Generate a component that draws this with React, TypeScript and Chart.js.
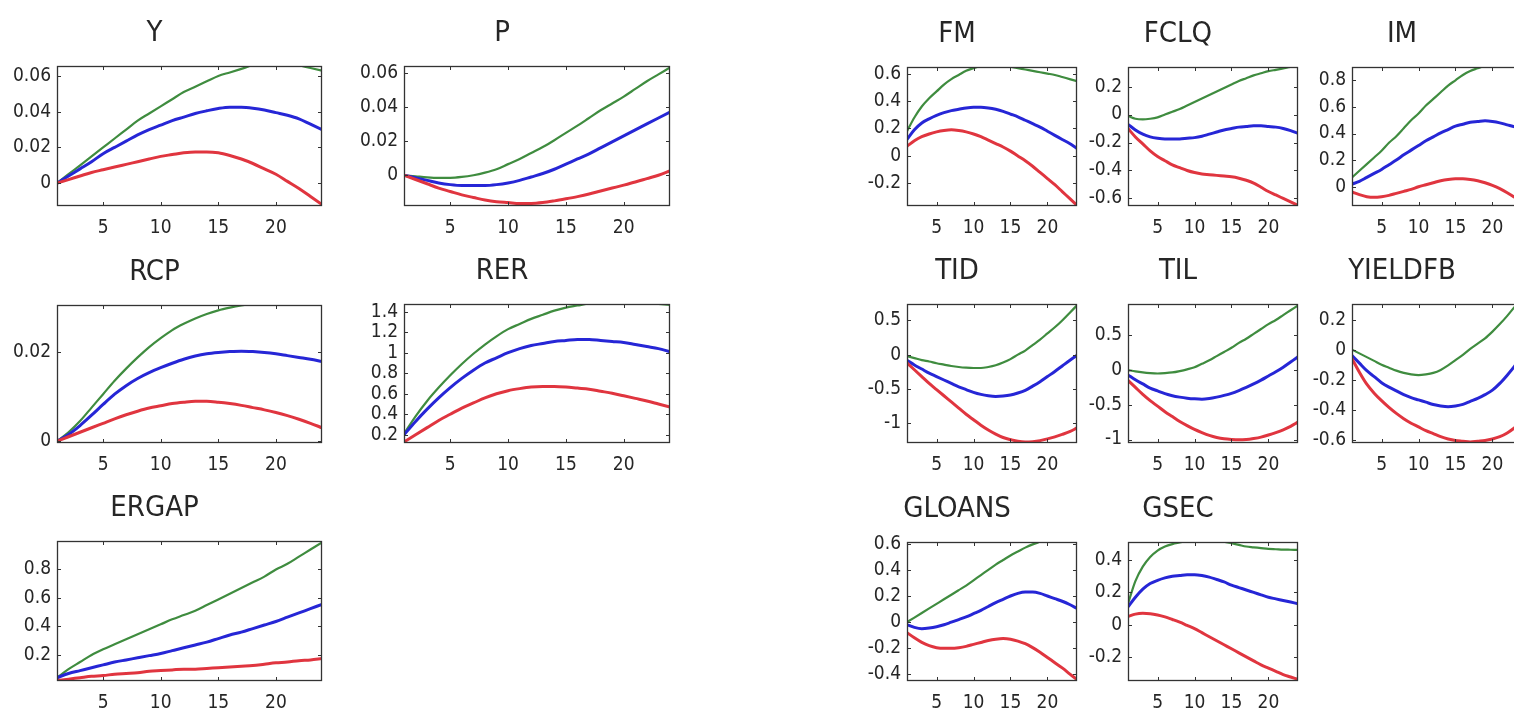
import React, { useEffect, useRef } from "react";
import { Chart, registerables } from "chart.js";

Chart.register(...registerables);

// ---------- data ----------
const HORIZON = [1, 2, 3, 4, 5, 6, 7, 8, 9, 10, 11, 12, 13, 14, 15, 16, 17, 18, 19, 20, 21, 22, 23, 24];
const X_TICKS = [5, 10, 15, 20];

// Y
const Y_GREEN = [0, 0.005, 0.01, 0.015, 0.02, 0.025, 0.03, 0.035, 0.039, 0.043, 0.047, 0.051, 0.054, 0.057, 0.06, 0.062, 0.064, 0.066, 0.067, 0.0675, 0.0675, 0.066, 0.0645, 0.063];
const Y_BLUE = [0, 0.004, 0.008, 0.012, 0.0165, 0.02, 0.0235, 0.027, 0.03, 0.0325, 0.035, 0.037, 0.039, 0.0405, 0.0418, 0.0425, 0.0425, 0.042, 0.041, 0.0395, 0.038, 0.036, 0.033, 0.03];
const Y_RED = [0, 0.002, 0.004, 0.006, 0.0075, 0.009, 0.0105, 0.012, 0.0135, 0.015, 0.016, 0.017, 0.0175, 0.0175, 0.017, 0.0155, 0.0135, 0.011, 0.008, 0.005, 0.001, -0.003, -0.0075, -0.012];
const Y_TICKS = [0, 0.02, 0.04, 0.06];

// P
const P_GREEN = [0, -0.0006, -0.0012, -0.0015, -0.0015, -0.001, 0, 0.0015, 0.0035, 0.0065, 0.0095, 0.013, 0.0165, 0.0205, 0.0248, 0.029, 0.0335, 0.038, 0.042, 0.046, 0.0505, 0.055, 0.059, 0.063];
const P_BLUE = [0, -0.0015, -0.003, -0.0045, -0.0055, -0.006, -0.006, -0.006, -0.0055, -0.0045, -0.003, -0.001, 0.001, 0.0035, 0.0065, 0.0095, 0.0125, 0.016, 0.0195, 0.023, 0.0265, 0.03, 0.0335, 0.037];
const P_RED = [0, -0.0025, -0.005, -0.0075, -0.0095, -0.0115, -0.013, -0.0145, -0.0155, -0.016, -0.0165, -0.0165, -0.016, -0.015, -0.0138, -0.0125, -0.011, -0.0092, -0.0075, -0.0058, -0.004, -0.002, 0, 0.0025];
const P_TICKS = [0, 0.02, 0.04, 0.06];

// RCP
const RCP_GREEN = [0, 0.002, 0.0045, 0.0075, 0.0105, 0.0135, 0.0162, 0.0187, 0.021, 0.023, 0.0248, 0.0262, 0.0274, 0.0284, 0.0292, 0.0298, 0.0303, 0.0307, 0.031, 0.0312, 0.0313, 0.0313, 0.0312, 0.031];
const RCP_BLUE = [0, 0.0015, 0.0035, 0.0058, 0.0082, 0.0105, 0.0124, 0.014, 0.0153, 0.0164, 0.0174, 0.0183, 0.019, 0.0195, 0.0198, 0.02, 0.0201, 0.02, 0.0198, 0.0195, 0.0191, 0.0187, 0.0183, 0.0178];
const RCP_RED = [0, 0.001, 0.002, 0.003, 0.004, 0.005, 0.0059, 0.0067, 0.0074, 0.0079, 0.0084, 0.0087, 0.0089, 0.0089, 0.0087, 0.0084, 0.008, 0.0075, 0.007, 0.0064, 0.0057, 0.0049, 0.004, 0.003];
const RCP_TICKS = [0, 0.02];

// RER
const RER_GREEN = [0.21, 0.38, 0.53, 0.66, 0.78, 0.89, 0.99, 1.08, 1.16, 1.23, 1.28, 1.33, 1.37, 1.41, 1.44, 1.46, 1.48, 1.495, 1.5, 1.5, 1.495, 1.485, 1.475, 1.465];
const RER_BLUE = [0.2, 0.33, 0.45, 0.56, 0.66, 0.75, 0.83, 0.9, 0.95, 1.0, 1.04, 1.07, 1.09, 1.11, 1.12, 1.13, 1.13, 1.12, 1.11, 1.1, 1.08, 1.06, 1.04, 1.01];
const RER_RED = [0.13, 0.2, 0.27, 0.34, 0.4, 0.46, 0.51, 0.56, 0.6, 0.63, 0.65, 0.665, 0.67, 0.67, 0.665, 0.655, 0.645, 0.625, 0.605, 0.58, 0.555, 0.53, 0.5, 0.47];
const RER_TICKS = [0.2, 0.4, 0.6, 0.8, 1, 1.2, 1.4];

// ERGAP
const ERGAP_GREEN = [0.04, 0.1, 0.15, 0.2, 0.24, 0.275, 0.31, 0.345, 0.38, 0.415, 0.45, 0.48, 0.51, 0.55, 0.59, 0.63, 0.67, 0.71, 0.75, 0.8, 0.84, 0.89, 0.94, 0.99];
const ERGAP_BLUE = [0.04, 0.07, 0.09, 0.11, 0.13, 0.15, 0.165, 0.18, 0.195, 0.21, 0.23, 0.25, 0.27, 0.29, 0.315, 0.34, 0.36, 0.385, 0.41, 0.435, 0.465, 0.495, 0.525, 0.555];
const ERGAP_RED = [0.02, 0.03, 0.04, 0.05, 0.055, 0.065, 0.07, 0.075, 0.085, 0.09, 0.095, 0.1, 0.1, 0.105, 0.11, 0.115, 0.12, 0.125, 0.135, 0.145, 0.15, 0.16, 0.165, 0.175];
const ERGAP_TICKS = [0.2, 0.4, 0.6, 0.8];

// FM
const FM_GREEN = [0.18, 0.28, 0.36, 0.42, 0.47, 0.52, 0.56, 0.59, 0.62, 0.64, 0.655, 0.665, 0.67, 0.665, 0.65, 0.64, 0.63, 0.62, 0.61, 0.6, 0.59, 0.575, 0.56, 0.545];
const FM_BLUE = [0.12, 0.19, 0.24, 0.27, 0.295, 0.315, 0.33, 0.34, 0.35, 0.355, 0.355, 0.35, 0.34, 0.325, 0.305, 0.285, 0.26, 0.235, 0.21, 0.18, 0.15, 0.12, 0.09, 0.055];
const FM_RED = [0.07, 0.11, 0.14, 0.16, 0.175, 0.185, 0.19, 0.185, 0.175, 0.16, 0.14, 0.115, 0.09, 0.065, 0.035, 0, -0.035, -0.075, -0.12, -0.165, -0.21, -0.26, -0.31, -0.36];
const FM_TICKS = [-0.2, 0, 0.2, 0.4, 0.6];

// FCLQ
const FCLQ_GREEN = [-0.01, -0.03, -0.035, -0.03, -0.02, 0, 0.02, 0.04, 0.065, 0.09, 0.115, 0.14, 0.165, 0.19, 0.215, 0.24, 0.26, 0.28, 0.295, 0.31, 0.32, 0.33, 0.34, 0.345];
const FCLQ_BLUE = [-0.07, -0.11, -0.14, -0.16, -0.17, -0.175, -0.175, -0.175, -0.17, -0.165, -0.155, -0.14, -0.125, -0.11, -0.1, -0.09, -0.085, -0.08, -0.08, -0.085, -0.09, -0.1, -0.115, -0.135];
const FCLQ_RED = [-0.1, -0.16, -0.21, -0.26, -0.3, -0.33, -0.36, -0.38, -0.4, -0.415, -0.425, -0.43, -0.435, -0.44, -0.445, -0.455, -0.47, -0.49, -0.52, -0.55, -0.575, -0.6, -0.625, -0.65];
const FCLQ_TICKS = [-0.6, -0.4, -0.2, 0, 0.2];

// IM
const IM_GREEN = [0.07, 0.12, 0.17, 0.22, 0.27, 0.33, 0.38, 0.44, 0.5, 0.55, 0.61, 0.66, 0.71, 0.76, 0.8, 0.84, 0.87, 0.89, 0.91, 0.92, 0.93, 0.935, 0.94, 0.94];
const IM_BLUE = [0.02, 0.04, 0.07, 0.1, 0.13, 0.165, 0.2, 0.24, 0.275, 0.31, 0.345, 0.375, 0.405, 0.43, 0.455, 0.47, 0.485, 0.49, 0.495, 0.49, 0.48, 0.465, 0.45, 0.43];
const IM_RED = [-0.04, -0.06, -0.075, -0.08, -0.075, -0.065, -0.05, -0.035, -0.02, 0, 0.015, 0.03, 0.045, 0.055, 0.06, 0.06, 0.055, 0.045, 0.03, 0.01, -0.015, -0.045, -0.08, -0.115];
const IM_TICKS = [0, 0.2, 0.4, 0.6, 0.8];

// TID
const TID_GREEN = [-0.02, -0.05, -0.08, -0.1, -0.125, -0.145, -0.165, -0.18, -0.19, -0.195, -0.195, -0.18, -0.155, -0.115, -0.065, 0, 0.06, 0.14, 0.22, 0.31, 0.4, 0.5, 0.61, 0.72];
const TID_BLUE = [-0.08, -0.15, -0.21, -0.27, -0.32, -0.37, -0.42, -0.47, -0.51, -0.55, -0.58, -0.6, -0.61, -0.605, -0.59, -0.56, -0.52, -0.46, -0.395, -0.32, -0.245, -0.165, -0.085, -0.01];
const TID_RED = [-0.12, -0.22, -0.32, -0.42, -0.51, -0.6, -0.69, -0.78, -0.87, -0.95, -1.03, -1.1, -1.16, -1.21, -1.24, -1.265, -1.275, -1.27, -1.255, -1.23, -1.2, -1.165, -1.125, -1.07];
const TID_TICKS = [-1, -0.5, 0, 0.5];

// TIL
const TIL_GREEN = [0, -0.02, -0.035, -0.045, -0.05, -0.045, -0.035, -0.015, 0.01, 0.04, 0.09, 0.14, 0.2, 0.26, 0.32, 0.39, 0.45, 0.52, 0.59, 0.66, 0.72, 0.79, 0.86, 0.93];
const TIL_BLUE = [-0.07, -0.14, -0.2, -0.26, -0.3, -0.34, -0.37, -0.39, -0.405, -0.415, -0.42, -0.41, -0.39, -0.365, -0.335, -0.295, -0.25, -0.2, -0.145, -0.085, -0.025, 0.04, 0.115, 0.19];
const TIL_RED = [-0.15, -0.25, -0.35, -0.44, -0.52, -0.6, -0.67, -0.74, -0.8, -0.855, -0.9, -0.94, -0.97, -0.99, -1.0, -1.005, -1.0, -0.985, -0.965, -0.935, -0.9, -0.86, -0.81, -0.75];
const TIL_TICKS = [-1, -0.5, 0, 0.5];

// YIELDFB
const YIELDFB_GREEN = [0, -0.025, -0.05, -0.075, -0.1, -0.12, -0.14, -0.155, -0.165, -0.17, -0.165, -0.155, -0.135, -0.105, -0.07, -0.035, 0.005, 0.04, 0.075, 0.12, 0.17, 0.225, 0.285, 0.345];
const YIELDFB_BLUE = [-0.04, -0.09, -0.14, -0.18, -0.22, -0.25, -0.275, -0.3, -0.32, -0.335, -0.35, -0.365, -0.375, -0.38, -0.375, -0.365, -0.345, -0.325, -0.3, -0.27, -0.225, -0.17, -0.11, -0.04];
const YIELDFB_RED = [-0.06, -0.15, -0.23, -0.29, -0.34, -0.385, -0.425, -0.46, -0.49, -0.515, -0.54, -0.56, -0.58, -0.595, -0.605, -0.61, -0.615, -0.61, -0.605, -0.595, -0.58, -0.555, -0.52, -0.48];
const YIELDFB_TICKS = [-0.6, -0.4, -0.2, 0, 0.2];

// GLOANS
const GLOANS_GREEN = [0, 0.035, 0.07, 0.105, 0.14, 0.175, 0.21, 0.245, 0.28, 0.32, 0.36, 0.4, 0.44, 0.475, 0.51, 0.54, 0.57, 0.595, 0.615, 0.635, 0.65, 0.66, 0.665, 0.67];
const GLOANS_BLUE = [-0.02, -0.04, -0.05, -0.045, -0.035, -0.02, 0, 0.02, 0.04, 0.065, 0.09, 0.12, 0.15, 0.175, 0.2, 0.22, 0.23, 0.23, 0.22, 0.2, 0.18, 0.16, 0.135, 0.105];
const GLOANS_RED = [-0.08, -0.12, -0.155, -0.18, -0.195, -0.2, -0.2, -0.195, -0.185, -0.17, -0.155, -0.14, -0.13, -0.125, -0.13, -0.145, -0.165, -0.195, -0.23, -0.27, -0.31, -0.35, -0.395, -0.44];
const GLOANS_TICKS = [-0.4, -0.2, 0, 0.2, 0.4, 0.6];

// GSEC
const GSEC_GREEN = [0.13, 0.27, 0.36, 0.42, 0.46, 0.485, 0.5, 0.51, 0.52, 0.525, 0.525, 0.525, 0.52, 0.515, 0.505, 0.495, 0.485, 0.48, 0.475, 0.47, 0.468, 0.466, 0.465, 0.464];
const GSEC_BLUE = [0.11, 0.17, 0.22, 0.255, 0.275, 0.29, 0.3, 0.305, 0.31, 0.31, 0.305, 0.295, 0.28, 0.265, 0.245, 0.23, 0.215, 0.2, 0.185, 0.17, 0.16, 0.15, 0.14, 0.13];
const GSEC_RED = [0.05, 0.065, 0.07, 0.068, 0.06, 0.048, 0.032, 0.015, -0.005, -0.025, -0.05, -0.075, -0.1, -0.125, -0.15, -0.175, -0.2, -0.225, -0.25, -0.27, -0.29, -0.31, -0.325, -0.34];
const GSEC_TICKS = [-0.2, 0, 0.2, 0.4];

// ---------- layout / style ----------
const FONT = '"DejaVu Sans Condensed", "Liberation Sans", sans-serif';
const TEXT_COLOR = "#262626";
const GREEN = "#3f8c3f";
const BLUE = "#2626d6";
const RED = "#e0353f";

const M_LEFT = 70;
const M_TOP = 70;
const M_BOTTOM = 40;
const M_RIGHT = 10;

type Panel = {
  title: string; left: number; top: number; w: number; h: number;
  min: number; max: number; ticks: number[];
  green: number[]; blue: number[]; red: number[];
};

const PANELS: Panel[] = [
  { title: "Y", left: 57, top: 66, w: 265, h: 140, min: -0.0128, max: 0.0656, ticks: Y_TICKS, green: Y_GREEN, blue: Y_BLUE, red: Y_RED },
  { title: "P", left: 404, top: 66, w: 266, h: 140, min: -0.018, max: 0.0639, ticks: P_TICKS, green: P_GREEN, blue: P_BLUE, red: P_RED },
  { title: "RCP", left: 57, top: 305, w: 265, h: 138, min: -0.0004, max: 0.0304, ticks: RCP_TICKS, green: RCP_GREEN, blue: RCP_BLUE, red: RCP_RED },
  { title: "RER", left: 404, top: 304, w: 266, h: 139, min: 0.12, max: 1.475, ticks: RER_TICKS, green: RER_GREEN, blue: RER_BLUE, red: RER_RED },
  { title: "ERGAP", left: 57, top: 541, w: 265, h: 140, min: 0.017, max: 1.0, ticks: ERGAP_TICKS, green: ERGAP_GREEN, blue: ERGAP_BLUE, red: ERGAP_RED },
  { title: "FM", left: 907, top: 67, w: 170, h: 139, min: -0.365, max: 0.648, ticks: FM_TICKS, green: FM_GREEN, blue: FM_BLUE, red: FM_RED },
  { title: "FCLQ", left: 1128, top: 67, w: 170, h: 139, min: -0.654, max: 0.34, ticks: FCLQ_TICKS, green: FCLQ_GREEN, blue: FCLQ_BLUE, red: FCLQ_RED },
  { title: "IM", left: 1352, top: 67, w: 170, h: 139, min: -0.145, max: 0.9, ticks: IM_TICKS, green: IM_GREEN, blue: IM_BLUE, red: IM_RED },
  { title: "TID", left: 907, top: 304, w: 170, h: 139, min: -1.29, max: 0.74, ticks: TID_TICKS, green: TID_GREEN, blue: TID_BLUE, red: TID_RED },
  { title: "TIL", left: 1128, top: 304, w: 170, h: 139, min: -1.05, max: 0.95, ticks: TIL_TICKS, green: TIL_GREEN, blue: TIL_BLUE, red: TIL_RED },
  { title: "YIELDFB", left: 1352, top: 304, w: 170, h: 139, min: -0.622, max: 0.304, ticks: YIELDFB_TICKS, green: YIELDFB_GREEN, blue: YIELDFB_BLUE, red: YIELDFB_RED },
  { title: "GLOANS", left: 907, top: 542, w: 170, h: 139, min: -0.45, max: 0.613, ticks: GLOANS_TICKS, green: GLOANS_GREEN, blue: GLOANS_BLUE, red: GLOANS_RED },
  { title: "GSEC", left: 1128, top: 542, w: 170, h: 139, min: -0.35, max: 0.513, ticks: GSEC_TICKS, green: GSEC_GREEN, blue: GSEC_BLUE, red: GSEC_RED },
];

const fmt = (v: number) => String(Math.round(v * 10000) / 10000);

const framePlugin = {
  id: "matlabFrame",
  afterDatasetsDraw(chart: any) {
    const { ctx, chartArea: a, scales } = chart;
    const tl = 4;
    ctx.save();
    ctx.strokeStyle = "#333333";
    ctx.lineWidth = 1;
    ctx.beginPath();
    for (const t of scales.x.ticks) {
      const px = Math.round(scales.x.getPixelForValue(t.value)) + 0.5;
      ctx.moveTo(px, a.bottom); ctx.lineTo(px, a.bottom - tl);
      ctx.moveTo(px, a.top); ctx.lineTo(px, a.top + tl);
    }
    for (const t of scales.y.ticks) {
      const py = Math.round(scales.y.getPixelForValue(t.value)) + 0.5;
      ctx.moveTo(a.left, py); ctx.lineTo(a.left + tl, py);
      ctx.moveTo(a.right, py); ctx.lineTo(a.right - tl, py);
    }
    ctx.stroke();
    ctx.lineWidth = 1.3;
    ctx.strokeRect(a.left + 0.5, a.top + 0.5, a.right - a.left - 1, a.bottom - a.top - 1);
    ctx.restore();
  },
};

const toPoints = (ys: number[]) => HORIZON.map((h, i) => ({ x: h, y: ys[i] }));

function PanelChart({ p }: { p: Panel }) {
  const ref = useRef<HTMLCanvasElement | null>(null);
  const W = p.w + M_LEFT + M_RIGHT;
  const H = p.h + M_TOP + M_BOTTOM;
  useEffect(() => {
    if (!ref.current) return;
    const line = (data: number[], color: string, width: number) => ({
      data: toPoints(data),
      borderColor: color,
      backgroundColor: color,
      borderWidth: width,
      pointRadius: 0,
      cubicInterpolationMode: "monotone" as const,
      clip: 0,
      fill: false,
    });
    const tickFont = { family: FONT, size: 19, weight: "normal" as const };
    const chart = new Chart(ref.current, {
      type: "line",
      data: {
        datasets: [line(p.red, RED, 3), line(p.blue, BLUE, 3), line(p.green, GREEN, 2.2)],
      },
      options: {
        animation: false,
        responsive: false,
        devicePixelRatio: 1,
        layout: { padding: { left: 0, right: M_RIGHT, top: 0, bottom: 0 } },
        plugins: {
          legend: { display: false },
          tooltip: { enabled: false },
          title: {
            display: true,
            text: p.title,
            color: TEXT_COLOR,
            font: { family: FONT, size: 29, weight: "normal", lineHeight: 1 },
            padding: { top: 23, bottom: 18 },
          },
        },
        scales: {
          x: {
            type: "linear",
            min: 1,
            max: 24,
            afterBuildTicks: (s: any) => { s.ticks = X_TICKS.map((v) => ({ value: v })); },
            afterFit: (s: any) => { s.height = M_BOTTOM; },
            grid: { display: false, drawTicks: false },
            border: { display: false },
            ticks: { font: tickFont, color: TEXT_COLOR, padding: 11, maxRotation: 0, autoSkip: false, callback: (v: any) => fmt(Number(v)) },
          },
          y: {
            type: "linear",
            min: p.min,
            max: p.max,
            afterBuildTicks: (s: any) => { s.ticks = p.ticks.map((v) => ({ value: v })); },
            afterFit: (s: any) => { s.width = M_LEFT; },
            grid: { display: false, drawTicks: false },
            border: { display: false },
            ticks: { font: tickFont, color: TEXT_COLOR, padding: 6, autoSkip: false, callback: (v: any) => fmt(Number(v)) },
          },
        },
      },
      plugins: [framePlugin],
    } as any);
    return () => chart.destroy();
  }, [p]);
  return (
    <canvas
      ref={ref}
      width={W}
      height={H}
      style={{ position: "absolute", left: p.left - M_LEFT, top: p.top - M_TOP, width: W, height: H }}
    />
  );
}

export default function App() {
  return (
    <div style={{ position: "fixed", left: 0, top: 0, width: 1514, height: 711, overflow: "hidden", background: "#ffffff" }}>
      {PANELS.map((p) => (
        <PanelChart key={p.title} p={p} />
      ))}
    </div>
  );
}
